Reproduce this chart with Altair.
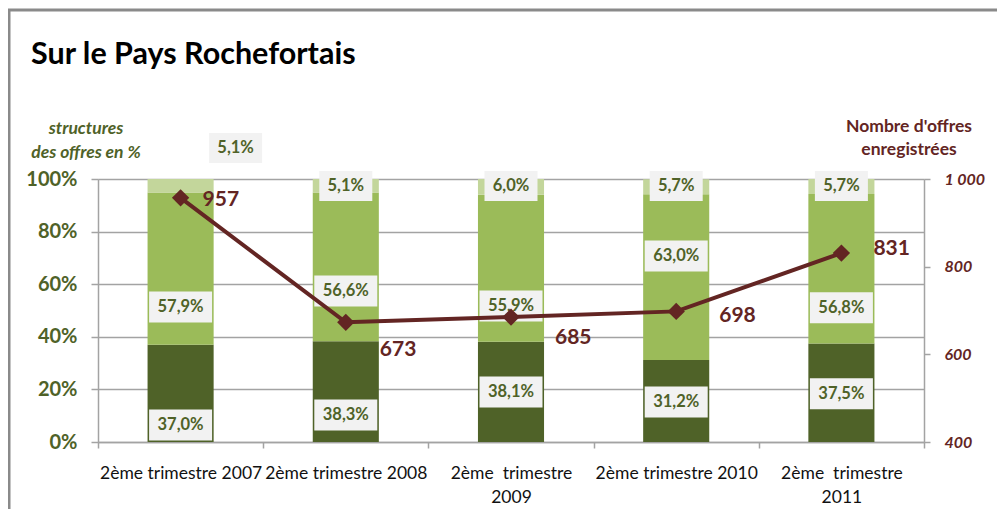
import altair as alt
import pandas as pd

# ---------------- data ----------------
categories = ["2ème trimestre 2007", "2ème trimestre 2008", "2ème\u00a0 trimestre\n2009",
              "2ème trimestre 2010", "2ème\u00a0 trimestre\n2011"]
share_dark = [37.0, 38.3, 38.1, 31.2, 37.5]     # bottom segment (%)
share_mid = [57.9, 56.6, 55.9, 63.0, 56.8]      # middle segment (%)
share_light = [5.1, 5.1, 6.0, 5.7, 5.7]         # top segment (%)
offers = [957, 673, 685, 698, 831]              # Nombre d'offres enregistrées

# label anchor heights (in % units, as positioned in the original)
pos_dark = [6.5, 10.3, 19.0, 15.2, 18.3]
pos_mid = [51.3, 57.4, 51.7, 70.7, 51.0]
pos_light = [111.8, 97.3, 97.3, 97.3, 97.3]
# pixel offsets of the line value labels (dx, dy)
offer_label_offsets = [(22, 2), (34, 28), (44, 21), (43, 5), (32, -4)]

DARK = "#4F6228"
MID = "#9BBB59"
LIGHT = "#C3D69B"
MAROON = "#632523"
GRID = "#a3a3a3"
FONT = "Lato"

W, H = 826, 263


def fmt(v):
    return f"{v:.1f}".replace(".", ",") + "%"


# stacked bars table
rows = []
for i, c in enumerate(categories):
    y0 = 0.0
    for seg, vals in (("dark", share_dark), ("mid", share_mid), ("light", share_light)):
        rows.append({"cat": c, "seg": seg, "y0": y0, "y1": y0 + vals[i]})
        y0 += vals[i]
bars_df = pd.DataFrame(rows)

lab_rows = []
for i, c in enumerate(categories):
    lab_rows.append({"cat": c, "txt": fmt(share_dark[i]), "pos": pos_dark[i], "kind": "wide", "i": i})
    lab_rows.append({"cat": c, "txt": fmt(share_mid[i]), "pos": pos_mid[i], "kind": "wide", "i": i})
    lab_rows.append({"cat": c, "txt": fmt(share_light[i]), "pos": pos_light[i], "kind": "narrow", "i": i})
labels_df = pd.DataFrame(lab_rows)

line_df = pd.DataFrame({"cat": categories, "offers": offers})

x_axis = alt.Axis(title=None, labelAngle=0, tickBand="extent", tickSize=6, tickWidth=1.5,
                  labelFontSize=17.5, labelColor="#111111", labelFont=FONT,
                  labelExpr="isValid(datum.value) ? split(datum.value, '\\n') : ''",
                  labelLineHeight=24,
                  labelPadding=16, grid=False, domainColor=GRID, domainWidth=1.5,
                  tickColor=GRID, labelLimit=200)
xscale = alt.Scale(paddingInner=0, paddingOuter=0)


def X():
    return alt.X("cat:N", sort=categories, scale=xscale, axis=x_axis, title=None)


yscale = alt.Scale(domain=[0, 100])
y_axis = alt.Axis(values=[0, 20, 40, 60, 80, 100], labelExpr="datum.label + '%'",
                  grid=True, gridColor=GRID, gridWidth=1.5, tickSize=7,
                  tickColor=GRID, tickWidth=1.5, domainColor=GRID, domainWidth=1.5,
                  labelFontSize=20, labelFontWeight="bold", labelColor=DARK,
                  labelFont=FONT, labelPadding=14, title=None)


def Y(field):
    return alt.Y(field, scale=yscale, axis=y_axis, title=None)


bars = alt.Chart(bars_df).mark_bar(width={"band": 0.4}).encode(
    x=X(),
    y=Y("y0:Q"),
    y2="y1:Q",
    color=alt.Color("seg:N", scale=alt.Scale(domain=["dark", "mid", "light"],
                                             range=[DARK, MID, LIGHT]), legend=None),
)

WIDE = "M-1,-0.492H1V0.492H-1Z"
NARROW = "M-1,-0.566H1V0.566H-1Z"


def label_layer(df, shape, size, xoff):
    box = alt.Chart(df).mark_point(shape=shape, size=size, filled=True, opacity=1,
                                   color="#F2F2F2", strokeWidth=0, xOffset=xoff).encode(
        x=X(), y=Y("pos:Q"))
    txt = alt.Chart(df).mark_text(font=FONT, fontSize=16.5, fontWeight="bold", color=DARK,
                                  baseline="middle", xOffset=xoff).encode(
        x=X(), y=Y("pos:Q"), text="txt:N")
    return [box, txt]


wide_df = labels_df[labels_df.kind == "wide"]
narrow_moved = labels_df[(labels_df.kind == "narrow") & (labels_df.i == 0)]
narrow_rest = labels_df[(labels_df.kind == "narrow") & (labels_df.i != 0)]

label_layers = (label_layer(wide_df, WIDE, 63 ** 2, 0)
                + label_layer(narrow_rest, NARROW, 53 ** 2, 0)
                + label_layer(narrow_moved, NARROW, 53 ** 2, 55))

one = pd.DataFrame({"a": [0]})
title = alt.Chart(one).mark_text(text="Sur le Pays Rochefortais", font=FONT, fontSize=30.5,
                                 fontWeight="bold", color="#000000", align="left",
                                 baseline="alphabetic").encode(x=alt.value(-67), y=alt.value(-115))
left_title = alt.Chart(one).mark_text(text=["structures", "des offres en %"], font=FONT,
                                      fontSize=17.5, fontWeight="bold", fontStyle="italic",
                                      color=DARK, align="center", baseline="alphabetic",
                                      lineHeight=24).encode(x=alt.value(-12), y=alt.value(-45))
right_title = alt.Chart(one).mark_text(text=["Nombre d'offres", "enregistrées"], font=FONT,
                                       fontSize=17.5, fontWeight="bold", color=MAROON,
                                       align="center", baseline="alphabetic",
                                       lineHeight=23).encode(x=alt.value(811), y=alt.value(-47))
frame_v = alt.Chart(one).mark_rule(color="#8a8a8a", strokeWidth=3).encode(
    x=alt.value(-89), y=alt.value(-170), y2=alt.value(340))
frame_h = alt.Chart(one).mark_rule(color="#8a8a8a", strokeWidth=3).encode(
    x=alt.value(-90), x2=alt.value(920), y=alt.value(-169))

left = alt.layer(bars, *label_layers, title, left_title, right_title, frame_v, frame_h)

oscale = alt.Scale(domain=[400, 1000])
o_axis = alt.Axis(orient="right", values=[400, 600, 800, 1000],
                  labelExpr="datum.value == 1000 ? '1 000' : datum.label",
                  grid=False, tickSize=6, tickColor=GRID, tickWidth=1.5,
                  domainColor=GRID, domainWidth=1.5, labelFontSize=16,
                  labelFontWeight="bold", labelFontStyle="italic",
                  labelColor=MAROON, labelFont=FONT, labelPadding=14, title=None)


def YO():
    return alt.Y("offers:Q", scale=oscale, axis=o_axis, title=None)


line = alt.Chart(line_df).mark_line(color=MAROON, strokeWidth=4).encode(x=X(), y=YO())
pts = alt.Chart(line_df).mark_point(shape="diamond", size=300, filled=True, opacity=1,
                                    color=MAROON).encode(x=X(), y=YO())
val_layers = []
for i, (dx, dy) in enumerate(offer_label_offsets):
    val_layers.append(
        alt.Chart(line_df.iloc[[i]]).mark_text(font=FONT, fontSize=21, fontWeight="bold",
                                               color=MAROON, align="left", baseline="middle",
                                               dx=dx, dy=dy).encode(
            x=X(), y=YO(), text="offers:Q"))

right = alt.layer(line, pts, *val_layers)

chart = alt.layer(left, right).resolve_scale(y="independent").properties(
    width=W, height=H,
    autosize=alt.AutoSizeParams(type="none"),
    padding={"left": 90, "top": 171, "right": 73, "bottom": 67},
).configure_view(stroke=None).configure(background="white")

chart.save("out.html", embed_options={"renderer": "svg", "actions": False})
